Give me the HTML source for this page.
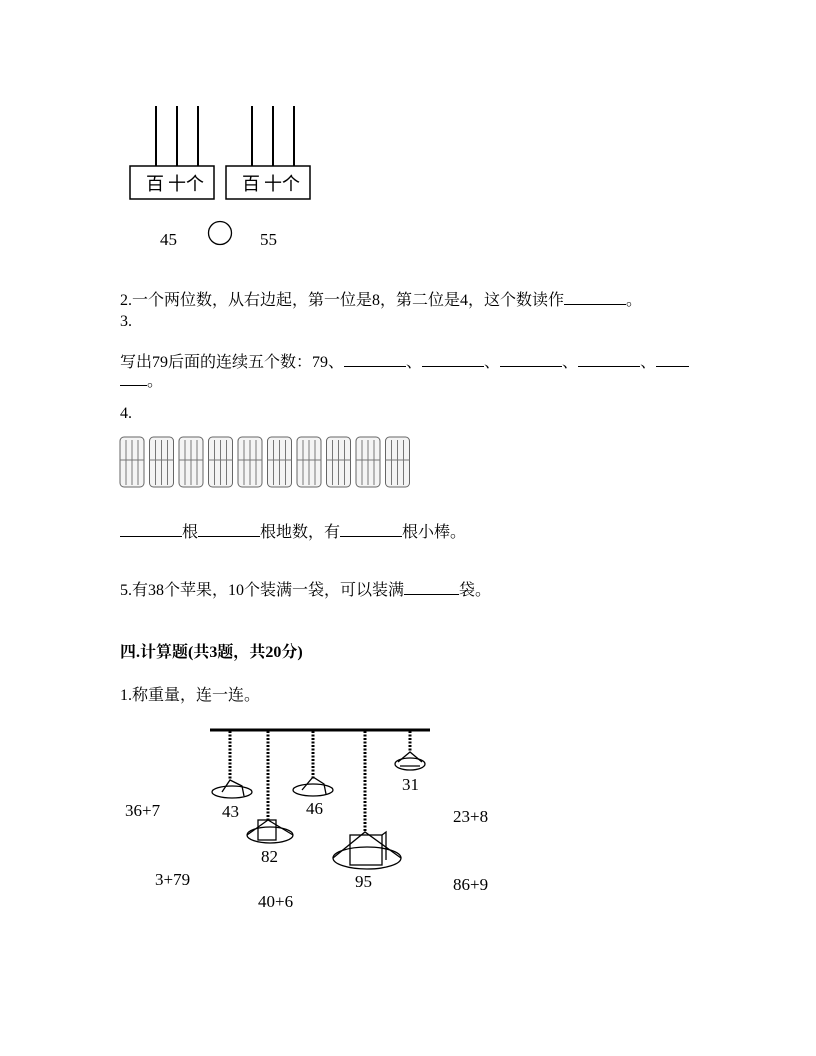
<!DOCTYPE html>
<html><head><meta charset="utf-8"><style>
body{margin:0;width:816px;height:1056px;background:#fff;position:relative;overflow:hidden;font-family:"Liberation Serif","Noto Serif CJK SC","Noto Sans CJK SC",serif;color:#000}
.t{position:absolute;font-size:16px;white-space:nowrap;line-height:1}
.u{display:inline-block;border-bottom:1px solid #000;height:13px;vertical-align:baseline}
.n{position:absolute;font-size:17px;line-height:1;white-space:nowrap}
</style></head><body>
<svg width="816" height="1056" style="position:absolute;left:0;top:0">
<g stroke="#000" stroke-width="2" fill="none">
<line x1="156" y1="106" x2="156" y2="166"/><line x1="177" y1="106" x2="177" y2="166"/><line x1="198" y1="106" x2="198" y2="166"/>
<line x1="252" y1="106" x2="252" y2="166"/><line x1="273" y1="106" x2="273" y2="166"/><line x1="294" y1="106" x2="294" y2="166"/>
</g>
<rect x="130" y="166" width="84" height="33" fill="none" stroke="#000" stroke-width="1.5"/>
<rect x="226" y="166" width="84" height="33" fill="none" stroke="#000" stroke-width="1.5"/>
<text x="146" y="190" font-size="18" font-family="Noto Sans CJK SC,sans-serif">百 十个</text>
<text x="242" y="190" font-size="18" font-family="Noto Sans CJK SC,sans-serif">百 十个</text>
<circle cx="220" cy="233" r="11.5" fill="none" stroke="#000" stroke-width="1.3"/>
<text x="160" y="245" font-size="17" font-family="Liberation Serif,serif">45</text>
<text x="260" y="245" font-size="17" font-family="Liberation Serif,serif">55</text>
<g stroke="#666" stroke-width="1" fill="#f4f4f4">
<rect x="120" y="437" width="24" height="50" rx="4"/><rect x="149.5" y="437" width="24" height="50" rx="4"/><rect x="179" y="437" width="24" height="50" rx="4"/><rect x="208.5" y="437" width="24" height="50" rx="4"/><rect x="238" y="437" width="24" height="50" rx="4"/><rect x="267.5" y="437" width="24" height="50" rx="4"/><rect x="297" y="437" width="24" height="50" rx="4"/><rect x="326.5" y="437" width="24" height="50" rx="4"/><rect x="356" y="437" width="24" height="50" rx="4"/><rect x="385.5" y="437" width="24" height="50" rx="4"/>
</g>
<g stroke="#777" stroke-width="1">
<path d="M126 440V485M132 440V485M138 440V485M155.5 440V485M161.5 440V485M167.5 440V485M185 440V485M191 440V485M197 440V485M214.5 440V485M220.5 440V485M226.5 440V485M244 440V485M250 440V485M256 440V485M273.5 440V485M279.5 440V485M285.5 440V485M303 440V485M309 440V485M315 440V485M332.5 440V485M338.5 440V485M344.5 440V485M362 440V485M368 440V485M374 440V485M391.5 440V485M397.5 440V485M403.5 440V485"/>
<path d="M120 460H144M149.5 460H173.5M179 460H203M208.5 460H232.5M238 460H262M267.5 460H291.5M297 460H321M326.5 460H350.5M356 460H380M385.5 460H409.5"/>
</g>
<line x1="210" y1="730" x2="430" y2="730" stroke="#000" stroke-width="3"/>
<g stroke="#000" stroke-width="3" stroke-dasharray="2 1.5">
<line x1="230" y1="731" x2="230" y2="780"/><line x1="268" y1="731" x2="268" y2="820"/><line x1="313" y1="731" x2="313" y2="780"/><line x1="365" y1="731" x2="365" y2="832"/><line x1="410" y1="731" x2="410" y2="752"/>
</g>
<g stroke="#000" stroke-width="1.3" fill="none">
<ellipse cx="232" cy="792" rx="20" ry="6"/><path d="M222 792 L230 780 L242 786 L244 796"/>
<ellipse cx="313" cy="790" rx="20" ry="6"/><path d="M302 790 L313 777 L324 784 L326 794"/>
<ellipse cx="410" cy="764" rx="15" ry="6"/><path d="M398 762 L410 752 L422 762 M400 766H420"/>
<ellipse cx="270" cy="835" rx="23" ry="8"/><path d="M247 835 L268 820 L293 835"/><rect x="258" y="820" width="18" height="20"/>
<ellipse cx="367" cy="858" rx="34" ry="11"/><path d="M333 858 L365 832 L401 858"/><rect x="350" y="835" width="32" height="30"/><path d="M382 835 L386 832 V860"/>
</g>
</svg>
<div class="t" style="left:120px;top:291px">2.一个两位数，从右边起，第一位是8，第二位是4，这个数读作<span class="u" style="width:62px"></span>。</div>
<div class="t" style="left:120px;top:314px">3.</div>
<div class="t" style="left:120px;top:353px">写出79后面的连续五个数：79、<span class="u" style="width:62px"></span>、<span class="u" style="width:62px"></span>、<span class="u" style="width:62px"></span>、<span class="u" style="width:62px"></span>、<span class="u" style="width:33px"></span></div>
<div class="t" style="left:120px;top:372px"><span class="u" style="width:27px"></span>。</div>
<div class="t" style="left:120px;top:406px">4.</div>
<div class="t" style="left:120px;top:523px"><span class="u" style="width:62px"></span>根<span class="u" style="width:62px"></span>根地数，有<span class="u" style="width:62px"></span>根小棒。</div>
<div class="t" style="left:120px;top:581px">5.有38个苹果，10个装满一袋，可以装满<span class="u" style="width:55px"></span>袋。</div>
<div class="t" style="left:120px;top:645px;font-weight:bold">四.计算题(共3题，共20分)</div>
<div class="t" style="left:120px;top:688px">1.称重量，连一连。</div>
<div class="n" style="left:125px;top:802px">36+7</div>
<div class="n" style="left:222px;top:803px">43</div>
<div class="n" style="left:306px;top:800px">46</div>
<div class="n" style="left:402px;top:776px">31</div>
<div class="n" style="left:453px;top:808px">23+8</div>
<div class="n" style="left:261px;top:848px">82</div>
<div class="n" style="left:355px;top:873px">95</div>
<div class="n" style="left:155px;top:871px">3+79</div>
<div class="n" style="left:453px;top:876px">86+9</div>
<div class="n" style="left:258px;top:893px">40+6</div>
</body></html>
